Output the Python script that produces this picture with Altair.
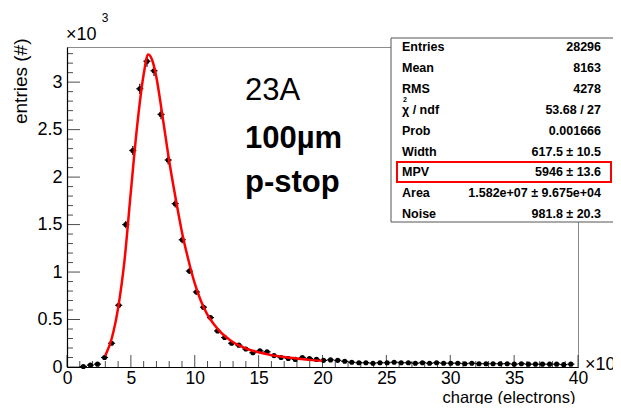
import altair as alt
import pandas as pd

# ---------------- data ----------------
bin_x = [1.28, 1.83, 2.39, 2.94, 3.49, 4.05, 4.60, 5.15, 5.70, 6.26,
         6.81, 7.36, 7.92, 8.47, 9.02, 9.58, 10.13, 10.68, 11.23, 11.79,
         12.34, 12.89, 13.45, 14.00, 14.55, 15.10, 15.66, 16.21, 16.76, 17.32,
         17.87, 18.42, 18.98, 19.53, 20.08, 20.63, 21.19, 21.74, 22.29, 22.85,
         23.40, 23.95, 24.50, 25.06, 25.61, 26.16, 26.72, 27.27, 27.82, 28.38,
         28.93, 29.48, 30.04, 30.59, 31.14, 31.69, 32.25, 32.80, 33.35, 33.91,
         34.46, 35.01, 35.57, 36.12, 36.67, 37.22, 37.78, 38.33, 38.88, 39.44]
entries_k = [0.005, 0.02, 0.03, 0.10, 0.25, 0.65, 1.50, 2.28, 2.93, 3.22,
             3.12, 2.66, 2.18, 1.72, 1.34, 1.01, 0.79, 0.63, 0.52, 0.38,
             0.31, 0.25, 0.23, 0.19, 0.15, 0.17, 0.16, 0.12, 0.10, 0.09,
             0.08, 0.10, 0.09, 0.08, 0.07, 0.075, 0.07, 0.06, 0.05, 0.045,
             0.045, 0.04, 0.045, 0.045, 0.05, 0.045, 0.045, 0.04, 0.045, 0.04,
             0.045, 0.04, 0.04, 0.04, 0.035, 0.04, 0.035, 0.035, 0.035, 0.035,
             0.035, 0.03, 0.035, 0.03, 0.03, 0.03, 0.03, 0.03, 0.025, 0.03]

fit_x = [3.0, 3.5, 4.0, 4.5, 5.0, 5.5, 6.0, 6.35, 6.7, 7.0, 7.5, 8.0, 8.5,
         9.0, 9.5, 10.0, 10.5, 11.0, 11.5, 12.0, 12.5, 13.0, 13.5, 14.0,
         15.0, 16.0, 17.0, 18.0, 19.0, 20.0]
fit_y = [0.12, 0.30, 0.62, 1.12, 1.85, 2.55, 3.08, 3.29, 3.22, 3.05, 2.62,
         2.17, 1.78, 1.42, 1.13, 0.88, 0.69, 0.55, 0.45, 0.37, 0.31, 0.26,
         0.225, 0.195, 0.155, 0.125, 0.105, 0.09, 0.075, 0.065]

x_major = [0, 5, 10, 15, 20, 25, 30, 35, 40]
x_minor = [1, 2, 3, 4, 6, 7, 8, 9, 11, 12, 13, 14, 16, 17, 18, 19,
           21, 22, 23, 24, 26, 27, 28, 29, 31, 32, 33, 34, 36, 37, 38, 39]
y_major = [0, 0.5, 1, 1.5, 2, 2.5, 3]
y_minor = [0.1, 0.2, 0.3, 0.4, 0.6, 0.7, 0.8, 0.9, 1.1, 1.2, 1.3, 1.4,
           1.6, 1.7, 1.8, 1.9, 2.1, 2.2, 2.3, 2.4, 2.6, 2.7, 2.8, 2.9,
           3.1, 3.2, 3.3]

stat_names = ["Entries", "Mean", "RMS", "χ  / ndf", "Prob", "Width", "MPV",
              "Area", "Noise"]
stat_values = ["28296", "8163", "4278", "53.68 / 27", "0.001666",
               "617.5 ± 10.5", "5946 ± 13.6", "1.582e+07 ± 9.675e+04",
               "981.8 ± 20.3"]
note_lines = ["23A", "100µm", "p-stop"]

# ---------------- layout / style ----------------
FONT = "Liberation Sans"
W, H = 511, 320
HALF_BIN = 0.277

xs = alt.Scale(domain=[0, 40], nice=False, zero=False)
ys = alt.Scale(domain=[0, 3.37], nice=False, zero=False)

pts = pd.DataFrame({"x": bin_x, "y": entries_k})
fit = pd.DataFrame({"x": fit_x, "y": fit_y})
one = pd.DataFrame({"a": [0]})

x_axis = alt.Axis(values=x_major, format="~g", labelFont=FONT, labelFontSize=17.5,
                  labelColor="black", labelPadding=2, labelFlush=False,
                  labelOverlap=False, ticks=False, grid=False,
                  domainColor="black", domainWidth=1.2,
                  title="charge (electrons)", titleFont=FONT, titleFontSize=16.5,
                  titleFontWeight="normal", titleColor="black",
                  titleAnchor="end", titleAlign="right", titleX=508, titleY=35,
                  titleBaseline="alphabetic")
y_axis = alt.Axis(values=y_major, format="~g", labelFont=FONT, labelFontSize=18,
                  labelColor="black", labelPadding=5, labelOverlap=False,
                  ticks=False, grid=False, domainColor="black", domainWidth=1.2,
                  title="entries (#)", titleFont=FONT, titleFontSize=19,
                  titleFontWeight="normal", titleColor="black",
                  titleAngle=270, titleX=-47, titleY=-9, titleAlign="right",
                  titleBaseline="middle")


def X(field):
    return alt.X(field, scale=xs, axis=x_axis, title="charge (electrons)")


def Y(field):
    return alt.Y(field, scale=ys, axis=y_axis, title="entries (#)")


base = alt.Chart(pts)

points = base.mark_circle(size=26, color="black", opacity=1).encode(
    x=X("x:Q"), y=Y("y:Q"))
xerr = base.transform_calculate(
    lo=f"datum.x - {HALF_BIN}", hi=f"datum.x + {HALF_BIN}"
).mark_rule(color="black", strokeWidth=1.2).encode(
    x=X("lo:Q"), x2="hi:Q", y=Y("y:Q"))
yerr = base.transform_calculate(
    lo="datum.y - sqrt(datum.y * 1000) / 1000",
    hi="datum.y + sqrt(datum.y * 1000) / 1000",
).mark_rule(color="black", strokeWidth=1.2).encode(
    x=X("x:Q"), y=Y("lo:Q"), y2="hi:Q")

fit_line = alt.Chart(fit).mark_line(
    color="#ff0000", strokeWidth=2.5, interpolate="monotone"
).encode(x=X("x:Q"), y=Y("y:Q"))

x0 = alt.XDatum(0, scale=xs, axis=x_axis, title="charge (electrons)")
y0 = alt.YDatum(0, scale=ys, axis=y_axis, title="entries (#)")

xt_maj = alt.Chart(pd.DataFrame({"v": x_major})).mark_tick(
    orient="vertical", size=12, thickness=1, color="black", yOffset=-6
).encode(x=X("v:Q"), y=y0)
xt_min = alt.Chart(pd.DataFrame({"v": x_minor})).mark_tick(
    orient="vertical", size=6, thickness=1, color="black", yOffset=-3
).encode(x=X("v:Q"), y=y0)
yt_maj = alt.Chart(pd.DataFrame({"v": y_major})).mark_tick(
    orient="horizontal", size=13, thickness=1, color="black", xOffset=6.5
).encode(y=Y("v:Q"), x=x0)
yt_min = alt.Chart(pd.DataFrame({"v": y_minor})).mark_tick(
    orient="horizontal", size=6, thickness=1, color="black", xOffset=3
).encode(y=Y("v:Q"), x=x0)

ann = alt.Chart(one)

# stats box
box = ann.mark_rect(fill="white", stroke="#555555", strokeWidth=1).encode(
    x=alt.value(324), x2=alt.value(547), y=alt.value(-9), y2=alt.value(175))
names_txt = ann.mark_text(text=stat_names, align="left", baseline="top",
                          lineHeight=20.9, font=FONT, fontSize=12.5,
                          fontWeight="bold", color="black").encode(
    x=alt.value(335), y=alt.value(-6))
vals_txt = ann.mark_text(text=stat_values, align="right", baseline="top",
                         lineHeight=20.9, font=FONT, fontSize=12.5,
                         fontWeight="bold", color="black").encode(
    x=alt.value(534), y=alt.value(-6))
chi_sup = ann.mark_text(text="2", align="center", baseline="middle", font=FONT,
                        fontSize=7, fontWeight="bold", color="black").encode(
    x=alt.value(338), y=alt.value(53))
mpv_box = ann.mark_rect(fillOpacity=0, stroke="#ff0000", strokeWidth=2).encode(
    x=alt.value(330), x2=alt.value(544), y=alt.value(115), y2=alt.value(135))

# annotation text
n1 = ann.mark_text(text=note_lines[0], align="left", baseline="alphabetic",
                   font=FONT, fontSize=31, color="black").encode(
    x=alt.value(178), y=alt.value(53))
n2 = ann.mark_text(text=note_lines[1], align="left", baseline="alphabetic",
                   font=FONT, fontSize=31, fontWeight="bold", color="black").encode(
    x=alt.value(178), y=alt.value(101))
n3 = ann.mark_text(text=note_lines[2], align="left", baseline="alphabetic",
                   font=FONT, fontSize=31, fontWeight="bold", color="black").encode(
    x=alt.value(178), y=alt.value(145))

# axis exponent labels
ex1 = ann.mark_text(text="×10", align="left", baseline="middle", font=FONT,
                    fontSize=18, color="black").encode(x=alt.value(-1), y=alt.value(-12))
ex1s = ann.mark_text(text="3", align="center", baseline="middle", font=FONT,
                     fontSize=12, color="black").encode(x=alt.value(38), y=alt.value(-29))
ex2 = ann.mark_text(text="×10", align="left", baseline="middle", font=FONT,
                    fontSize=18, color="black").encode(x=alt.value(518), y=alt.value(318))
ex2s = ann.mark_text(text="3", align="center", baseline="middle", font=FONT,
                     fontSize=12, color="black").encode(x=alt.value(551), y=alt.value(300))

chart = alt.layer(
    points, xerr, yerr, fit_line, xt_maj, xt_min, yt_maj, yt_min,
    n1, n2, n3, ex1, ex1s, ex2, ex2s,
    box, names_txt, vals_txt, chi_sup, mpv_box,
).properties(
    width=W, height=H,
    padding={"left": 59, "top": 39, "right": 35, "bottom": 37},
    autosize=alt.AutoSizeParams(type="none"),
    background="white",
).configure_view(stroke="#8c8c8c", strokeWidth=1)

chart.save("out.html", embed_options={"renderer": "svg", "actions": False})
